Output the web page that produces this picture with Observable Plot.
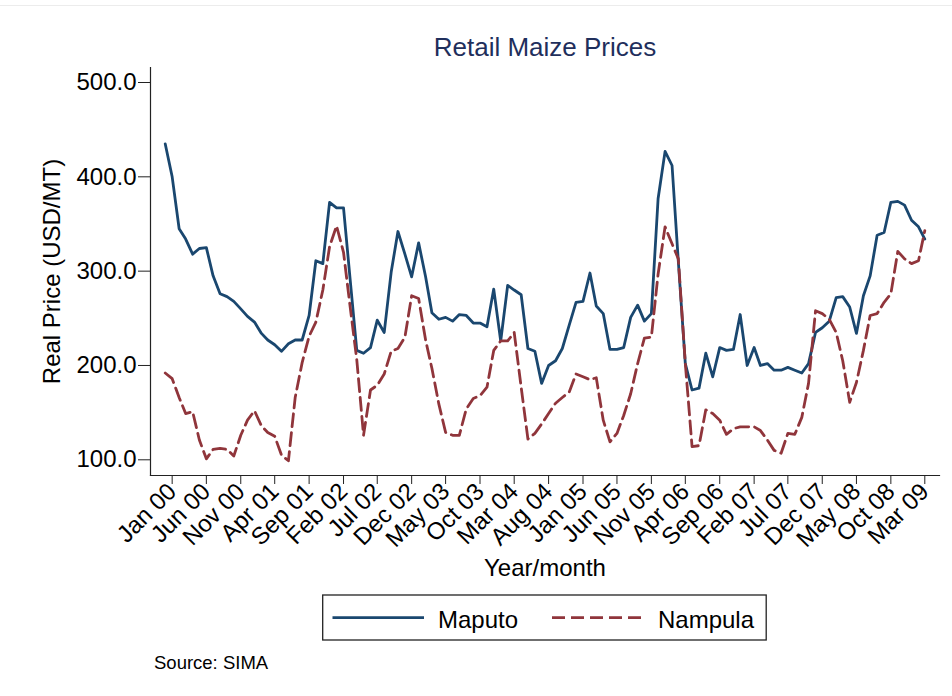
<!DOCTYPE html>
<html>
<head>
<meta charset="utf-8">
<script src="https://cdn.jsdelivr.net/npm/d3@7"></script>
<script src="https://cdn.jsdelivr.net/npm/@observablehq/plot@0.6"></script>
<style>
  html, body { margin: 0; padding: 0; background: #fff; }
  #wrap { position: relative; width: 952px; height: 696px; background: #fff; overflow: hidden;
          font-family: "Liberation Sans", Arial, Helvetica, sans-serif; }
  #chart { position: absolute; left: 0; top: 0; }
  #topline { position: absolute; left: 0; top: 5px; width: 952px; height: 0; border-top: 1px solid #ececec; }
  #legend { position: absolute; left: 322px; top: 594px; }
  #source { position: absolute; left: 0; top: 640px; }
</style>
</head>
<body>
<div id="wrap">
  <div id="topline"></div>
  <div id="chart"></div>
  <svg id="legend" width="448" height="48"></svg>
  <svg id="source" width="400" height="50"></svg>
</div>
<script>
// ---- data (monthly, first month Dec 1999) ----
const firstMonth = "1999-12";
const seriesNames = ["Maputo", "Nampula"];
const maputo = [
  435, 400, 345, 334, 318, 324, 325, 295, 276, 273, 268, 260,
  252, 246, 234, 227, 222, 215, 223, 227, 227, 253, 311, 308,
  373, 367, 367, 295, 216, 213, 219, 248, 235, 299, 342, 318,
  294, 330, 294, 256, 249, 251, 247, 254, 253, 245, 245, 241,
  281, 226, 285, 280, 275, 218, 215, 181, 200, 205, 218, 243,
  267, 268, 298, 263, 255, 217, 217, 219, 251, 264, 247, 255,
  377, 427, 412, 310, 202, 174, 176, 213, 188, 219, 216, 217,
  254, 200, 219, 200, 202, 195, 195, 198, 195, 192, 202, 235,
  240, 247, 272, 273, 262, 234, 274, 295, 338, 341, 373, 374,
  370, 354, 347, 334
];
const nampula = [
  192, 186, 166, 149, 151, 121, 101, 111, 112, 111, 104, 126,
  142, 152, 136, 129, 125, 105, 99, 166, 203, 231, 246, 280,
  326, 348, 320, 265, 206, 126, 174, 179, 191, 215, 218, 230,
  274, 271, 227, 197, 159, 129, 126, 126, 154, 165, 168, 177,
  216, 226, 226, 235, 177, 122, 128, 138, 149, 160, 166, 172,
  191, 188, 185, 187, 142, 119, 128, 147, 170, 202, 229, 230,
  297, 347, 329, 313, 202, 114, 115, 153, 149, 142, 127, 133,
  135, 135, 135, 131, 121, 110, 107, 128, 127, 145, 181, 258,
  255, 249, 235, 205, 161, 182, 216, 253, 255, 267, 276, 321,
  313, 308, 311, 343
];
const tickLabels = [
  "Jan 00", "Jun 00", "Nov 00", "Apr 01", "Sep 01", "Feb 02", "Jul 02", "Dec 02",
  "May 03", "Oct 03", "Mar 04", "Aug 04", "Jan 05", "Jun 05", "Nov 05", "Apr 06",
  "Sep 06", "Feb 07", "Jul 07", "Dec 07", "May 08", "Oct 08", "Mar 09"
];
const yTicks = [100, 200, 300, 400, 500];
const colors = ["#1a476f", "#90353b"];

// ---- build table ----
const start = d3.utcParse("%Y-%m")(firstMonth);
const dates = maputo.map((_, i) => d3.utcMonth.offset(start, i));
const rows = [];
dates.forEach((d, i) => {
  rows.push({date: d, city: seriesNames[0], price: maputo[i]});
  rows.push({date: d, city: seriesNames[1], price: nampula[i]});
});
const tickDates = tickLabels.map(d3.utcParse("%b %y"));
const labelOf = new Map(tickDates.map((d, i) => [+d, tickLabels[i]]));

const FONT = "'Liberation Sans', Arial, Helvetica, sans-serif";

const chart = Plot.plot({
  width: 952,
  height: 590,
  marginLeft: 150,
  marginRight: 13,
  marginTop: 67,
  marginBottom: 115,
  style: {fontFamily: FONT, fontSize: "24px", color: "#000", background: "transparent", overflow: "visible"},
  x: {type: "utc", domain: [dates[0], dates[dates.length - 1]], insetLeft: 14.7, insetRight: 14.7, label: null},
  y: {domain: [100, 500], insetTop: 15, insetBottom: 15.7, label: null},
  marks: [
    Plot.frame({anchor: "left", stroke: "#222", strokeWidth: 1.2}),
    Plot.frame({anchor: "bottom", stroke: "#222", strokeWidth: 1.2}),
    Plot.axisY({ticks: yTicks, tickFormat: d3.format(".1f"), tickSize: 12, tickPadding: 2,
                label: null, fontSize: 24, stroke: "#222"}),
    Plot.axisX({ticks: tickDates, tickFormat: d => labelOf.get(+d), tickRotate: -45,
                tickSize: 9, tickPadding: 3, label: null, fontSize: 24, stroke: "#222"}),
    Plot.lineY(rows.filter(d => d.city === seriesNames[0]),
               {x: "date", y: "price", stroke: colors[0], strokeWidth: 2.8, strokeLinejoin: "round"}),
    Plot.lineY(rows.filter(d => d.city === seriesNames[1]),
               {x: "date", y: "price", stroke: colors[1], strokeWidth: 2.8, strokeDasharray: "13,6",
                strokeLinejoin: "round"}),
    Plot.text(["Real Price (USD/MT)"], {text: d => d, frameAnchor: "left", rotate: -90, dx: -98,
               textAnchor: "middle", lineAnchor: "middle", fontSize: 24, fill: "#000"}),
    Plot.text(["Year/month"], {text: d => d, frameAnchor: "bottom", dy: 93, lineAnchor: "middle",
               fontSize: 24, fill: "#000"}),
    Plot.text(["Retail Maize Prices"], {text: d => d, frameAnchor: "top", dy: -19.5, lineAnchor: "middle",
               fontSize: 26, fill: "#1f2f5c"})
  ]
});
document.getElementById("chart").appendChild(chart);

// ---- legend ----
const leg = d3.select("#legend");
leg.append("rect").attr("x", 0.7).attr("y", 1).attr("width", 443.5).attr("height", 45)
  .attr("fill", "#fff").attr("stroke", "#222").attr("stroke-width", 1.3);
leg.append("line").attr("x1", 10.5).attr("x2", 102).attr("y1", 23.7).attr("y2", 23.7)
  .attr("stroke", colors[0]).attr("stroke-width", 2.8);
leg.append("text").attr("x", 116).attr("y", 33.5).text(seriesNames[0])
  .attr("font-family", FONT).attr("font-size", 24).attr("fill", "#000");
leg.append("line").attr("x1", 230).attr("x2", 322).attr("y1", 23.7).attr("y2", 23.7)
  .attr("stroke", colors[1]).attr("stroke-width", 2.8).attr("stroke-dasharray", "13,6");
leg.append("text").attr("x", 336).attr("y", 33.5).text(seriesNames[1])
  .attr("font-family", FONT).attr("font-size", 24).attr("fill", "#000");

// ---- source ----
d3.select("#source").append("text").attr("x", 154).attr("y", 29).text("Source: SIMA")
  .attr("font-family", FONT).attr("font-size", 18.5).attr("fill", "#000");
</script>
</body>
</html>
